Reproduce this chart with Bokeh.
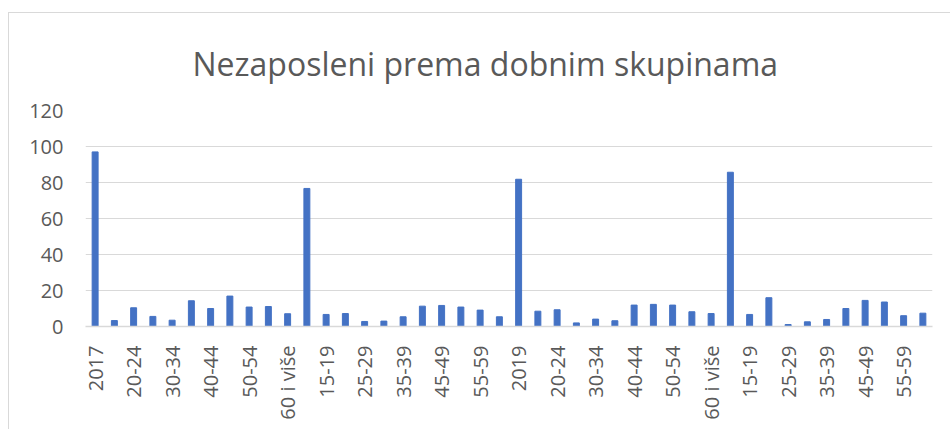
from bokeh.plotting import figure
from bokeh.models import FixedTicker, Range1d
from bokeh.embed import file_html
from bokeh.resources import INLINE

years = ["2017", "2018", "2019", "2020"]
age_groups = ["15-19", "20-24", "25-29", "30-34", "35-39", "40-44",
              "45-49", "50-54", "55-59", "60 i više"]

# Values: each year's total followed by its age groups
values_2017 = [97, 3.3, 10.4, 5.6, 3.5, 14.3, 10.0, 16.9, 10.8, 11.1, 7.1]
values_2018 = [76.7, 6.7, 7.2, 2.8, 3.0, 5.4, 11.3, 11.7, 10.8, 9.1, 5.4]
values_2019 = [81.8, 8.5, 9.3, 2.0, 4.1, 3.2, 11.9, 12.3, 11.9, 8.2, 7.2]
values_2020 = [85.7, 6.7, 16.0, 1.1, 2.6, 3.9, 10.0, 14.5, 13.6, 6.0, 7.4]

labels = []
for y in years:
    labels += [y] + age_groups
values = values_2017 + values_2018 + values_2019 + values_2020
xs = list(range(len(values)))

GREY = "#595959"
GRID = "#d9d9d9"

p = figure(width=942, height=417, output_backend="svg", toolbar_location=None,
           x_range=Range1d(-0.5, len(values) - 0.5), y_range=Range1d(0, 120),
           min_border_left=76, min_border_right=19, min_border_top=97,
           min_border_bottom=104,
           title="Nezaposleni prema dobnim skupinama",
           styles={"border-top": "1px solid #d9d9d9",
                   "border-left": "1px solid #d9d9d9",
                   "margin-top": "12px", "margin-left": "8px"})

p.vbar(x=xs, top=values, width=0.31, color="#4472C4")

p.title.align = "left"
p.title.offset = 107
p.title.text_font = "Open Sans"
p.title.text_font_size = "32px"
p.title.text_font_style = "normal"
p.title.text_color = GREY
p.title.standoff = 51

p.outline_line_color = None
p.xgrid.grid_line_color = None
p.ygrid.grid_line_color = GRID
p.ygrid.grid_line_width = 1.2

p.yaxis.ticker = FixedTicker(ticks=[0, 20, 40, 60, 80, 100, 120])
p.yaxis.axis_line_color = None
p.yaxis.major_tick_line_color = None
p.yaxis.minor_tick_line_color = None
p.yaxis.major_label_standoff = 16
p.yaxis.major_label_text_font = "Open Sans"
p.yaxis.major_label_text_font_size = "20px"
p.yaxis.major_label_text_color = GREY

shown = xs[::2]
p.xaxis.ticker = FixedTicker(ticks=shown)
p.xaxis.major_label_overrides = {i: labels[i] for i in shown}
p.xaxis.major_label_orientation = 3.14159265 / 2
p.xaxis.axis_line_color = GRID
p.xaxis.axis_line_width = 1.5
p.xaxis.major_tick_line_color = None
p.xaxis.minor_tick_line_color = None
p.xaxis.major_label_standoff = 13
p.xaxis.major_label_text_font = "Open Sans"
p.xaxis.major_label_text_font_size = "20px"
p.xaxis.major_label_text_color = GREY

open("out.html", "w").write(file_html(p, INLINE))
